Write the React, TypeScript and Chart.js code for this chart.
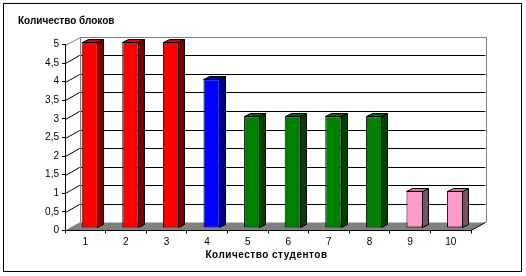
import React, { useEffect, useRef } from "react";
import { Chart, registerables } from "chart.js";

Chart.register(...registerables);

// ---- data ----
const categories = ["1", "2", "3", "4", "5", "6", "7", "8", "9", "10"];
const blockCounts = [5, 5, 5, 4, 3, 3, 3, 3, 1, 1];
const frontColors = ["#FF0000", "#FF0000", "#FF0000", "#0000FF", "#008000", "#008000", "#008000", "#008000", "#FF99CC", "#FF99CC"];
const sideColors = ["#800000", "#800000", "#800000", "#000080", "#004000", "#004000", "#004000", "#004000", "#804D66", "#804D66"];
const topColors = ["#E00000", "#E00000", "#E00000", "#0000D0", "#006800", "#006800", "#006800", "#006800", "#CC7AA3", "#CC7AA3"];
const yAxisTitle = "Количество блоков";
const xAxisTitle = "Количество студентов";
const yMin = 0;
const yMax = 5;
const yStep = 0.5;

// ---- 3D geometry (styling) ----
const WALL_DX = 14.5;
const WALL_DY = -8;
const BAR_DX = 4.5;
const BAR_DY = -2.5;
const SIDE_DX = 6;
const SIDE_DY = -3;
const FONT = "'Liberation Sans', Arial, sans-serif";

const excel3d = {
  id: "excel3d",
  beforeDraw(chart: any) {
    const ctx = chart.ctx as CanvasRenderingContext2D;
    const { left: L, right: R, bottom: B } = chart.chartArea;
    const ys = chart.scales.y;
    ctx.save();
    ctx.fillStyle = "#FFFFFF";
    ctx.fillRect(0, 0, chart.width, chart.height);
    // outer frame
    ctx.strokeStyle = "#000000";
    ctx.lineWidth = 1;
    ctx.strokeRect(3.5, 3.5, 518, 268);
    // floor
    ctx.fillStyle = "#808080";
    ctx.beginPath();
    ctx.moveTo(L, B);
    ctx.lineTo(R, B);
    ctx.lineTo(R + WALL_DX, B + WALL_DY);
    ctx.lineTo(L + WALL_DX, B + WALL_DY);
    ctx.closePath();
    ctx.fill();
    // gridlines on side and back walls
    ctx.strokeStyle = "#000000";
    ctx.lineWidth = 1;
    for (let v = yMin + yStep; v < yMax - 1e-9; v += yStep) {
      const y = Math.round(ys.getPixelForValue(v)) + 0.5;
      ctx.beginPath();
      ctx.moveTo(L + 0.5, y);
      ctx.lineTo(L + WALL_DX, y + WALL_DY);
      ctx.lineTo(R + WALL_DX, y + WALL_DY);
      ctx.stroke();
    }
    // back wall frame (gray)
    const yTop = Math.round(ys.getPixelForValue(yMax)) + 0.5;
    const bL = Math.round(L + WALL_DX) + 0.5;
    const bR = Math.round(R + WALL_DX) + 0.5;
    ctx.strokeStyle = "#808080";
    ctx.beginPath();
    ctx.moveTo(L + 0.5, yTop);
    ctx.lineTo(bL, yTop + WALL_DY);
    ctx.lineTo(bR, yTop + WALL_DY);
    ctx.lineTo(bR, B + WALL_DY);
    ctx.moveTo(bL, yTop + WALL_DY);
    ctx.lineTo(bL, B + WALL_DY);
    ctx.stroke();
    // right floor edge
    ctx.strokeStyle = "#000000";
    ctx.beginPath();
    ctx.moveTo(R, B);
    ctx.lineTo(R + WALL_DX, B + WALL_DY);
    ctx.stroke();
    // titles
    ctx.fillStyle = "#000000";
    ctx.font = "bold 10px " + FONT;
    ctx.textBaseline = "middle";
    ctx.textAlign = "left";
    ctx.fillText(yAxisTitle, 18, 21);
    ctx.textAlign = "center";
    (ctx as any).letterSpacing = "0.5px";
    ctx.fillText(xAxisTitle, 266.5, 255);
    (ctx as any).letterSpacing = "0px";
    ctx.restore();
  },
  beforeDatasetsDraw(chart: any) {
    chart.ctx.save();
    chart.ctx.translate(BAR_DX, BAR_DY);
  },
  afterDatasetsDraw(chart: any) {
    const ctx = chart.ctx as CanvasRenderingContext2D;
    ctx.restore();
    const meta = chart.getDatasetMeta(0);
    ctx.save();
    ctx.strokeStyle = "#000000";
    ctx.lineWidth = 1;
    ctx.lineJoin = "miter";
    meta.data.forEach((el: any, i: number) => {
      const p = el.getProps(["x", "y", "base", "width"], true);
      const l = Math.round(p.x - p.width / 2 + BAR_DX) + 0.5;
      const r = Math.round(p.x + p.width / 2 + BAR_DX) - 0.5;
      const t = Math.round(p.y + BAR_DY) + 0.5;
      const b = Math.round(p.base + BAR_DY) - 0.5;
      // side face
      ctx.fillStyle = sideColors[i];
      ctx.beginPath();
      ctx.moveTo(r, t);
      ctx.lineTo(r + SIDE_DX, t + SIDE_DY);
      ctx.lineTo(r + SIDE_DX, b + SIDE_DY);
      ctx.lineTo(r, b);
      ctx.closePath();
      ctx.fill();
      ctx.stroke();
      // top face
      ctx.fillStyle = topColors[i];
      ctx.beginPath();
      ctx.moveTo(l, t);
      ctx.lineTo(l + SIDE_DX, t + SIDE_DY);
      ctx.lineTo(r + SIDE_DX, t + SIDE_DY);
      ctx.lineTo(r, t);
      ctx.closePath();
      ctx.fill();
      ctx.stroke();
    });
    ctx.restore();
  },
};

export default function App() {
  const ref = useRef<HTMLCanvasElement>(null);
  useEffect(() => {
    document.body.style.margin = "0";
    Chart.defaults.font.family = FONT;
    const chart = new Chart(ref.current!, {
      type: "bar",
      data: {
        labels: categories,
        datasets: [
          {
            data: blockCounts,
            backgroundColor: frontColors,
            borderColor: "#000000",
            borderWidth: 1,
            borderSkipped: false,
            categoryPercentage: 1,
            barPercentage: 0.4,
            clip: false as any,
          },
        ],
      },
      options: {
        animation: false,
        responsive: false,
        devicePixelRatio: 1,
        layout: { padding: { top: 44.5, right: 55, left: 0, bottom: 0 } },
        plugins: { legend: { display: false }, tooltip: { enabled: false }, title: { display: false } },
        scales: {
          x: {
            afterFit: (s: any) => {
              s.height = 45.5;
            },
            grid: { display: true, drawOnChartArea: false, drawTicks: true, tickLength: 3, color: "#000000", offset: true },
            border: { display: true, color: "#000000", width: 1 },
            ticks: { color: "#000000", font: { size: 10, family: FONT }, padding: 3, maxRotation: 0, autoSkip: false },
          },
          y: {
            min: yMin,
            max: yMax,
            afterFit: (s: any) => {
              s.width = 65;
            },
            grid: { display: true, drawOnChartArea: false, drawTicks: true, tickLength: 3, color: "#000000" },
            border: { display: true, color: "#000000", width: 1 },
            ticks: {
              stepSize: yStep,
              color: "#000000",
              font: { size: 10, family: FONT },
              padding: 3,
              callback: (v: any) => String(v).replace(".", ","),
            },
          },
        },
      },
      plugins: [excel3d],
    });
    return () => chart.destroy();
  }, []);
  return (
    <div style={{ position: "absolute", left: 0, top: 0, width: 526, height: 276 }}>
      <canvas ref={ref} width={526} height={276} style={{ display: "block", width: 526, height: 276 }} />
    </div>
  );
}
